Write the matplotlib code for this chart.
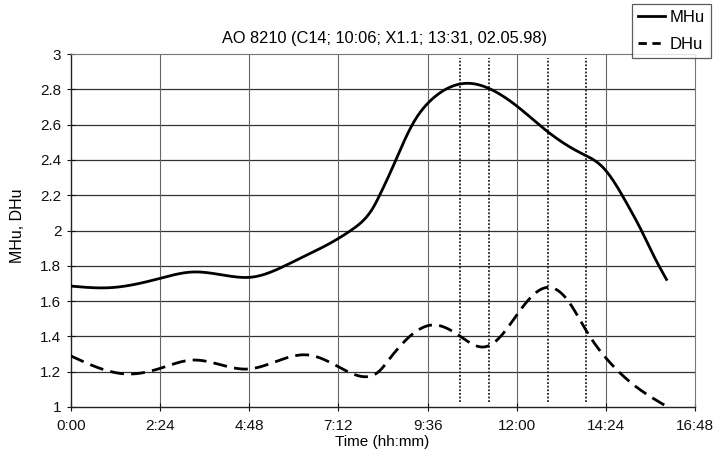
import numpy as np
import matplotlib
matplotlib.use("Agg")
import matplotlib.pyplot as plt
from matplotlib.lines import Line2D

plt.rcParams['font.family'] = ['Liberation Sans', 'DejaVu Sans']

# Data (time in minutes since 0:00)
mhu_t = [0, 63, 144, 197, 273, 290, 359, 432, 456, 489, 500, 516, 553, 579, 608, 641, 675, 722, 770, 823, 860, 900, 921, 942, 963]
mhu_v = [1.685, 1.676, 1.729, 1.765, 1.735, 1.735, 1.823, 1.955, 2.01, 2.135, 2.21, 2.33, 2.61, 2.73, 2.805, 2.834, 2.805, 2.70, 2.56, 2.44, 2.355, 2.14, 2.003, 1.852, 1.716]
dhu_t = [0, 91, 144, 197, 285, 382, 432, 472, 500, 511, 553, 586, 629, 667, 694, 726, 770, 802, 835, 867, 909, 963]
dhu_v = [1.289, 1.187, 1.219, 1.266, 1.215, 1.295, 1.228, 1.172, 1.21, 1.257, 1.417, 1.465, 1.40, 1.34, 1.40, 1.55, 1.678, 1.606, 1.417, 1.266, 1.125, 1.002]
marker_t = [628, 675, 770, 832]
xtick_t = [0, 144, 288, 432, 576, 720, 864, 1008]
xtick_labels = ['0:00', '2:24', '4:48', '7:12', '9:36', '12:00', '14:24', '16:48']
yticks = [1, 1.2, 1.4, 1.6, 1.8, 2, 2.2, 2.4, 2.6, 2.8, 3]
ytick_labels = ['1', '1.2', '1.4', '1.6', '1.8', '2', '2.2', '2.4', '2.6', '2.8', '3']
title = 'AO 8210 (C14; 10:06; X1.1; 13:31, 02.05.98)'


def smooth(t, v, n=600):
    # natural cubic spline rendering of the line through the read points
    x = np.asarray(t, float); y = np.asarray(v, float)
    N = len(x)
    h = np.diff(x)
    A = np.zeros((N, N)); b = np.zeros(N)
    A[0, 0] = A[-1, -1] = 1
    for i in range(1, N - 1):
        A[i, i - 1] = h[i - 1]
        A[i, i] = 2 * (h[i - 1] + h[i])
        A[i, i + 1] = h[i]
        b[i] = 6 * ((y[i + 1] - y[i]) / h[i] - (y[i] - y[i - 1]) / h[i - 1])
    M = np.linalg.solve(A, b)
    xs = np.linspace(x[0], x[-1], n)
    idx = np.clip(np.searchsorted(x, xs) - 1, 0, N - 2)
    x0, x1 = x[idx], x[idx + 1]
    hh = x1 - x0
    a = (x1 - xs) / hh; bb = (xs - x0) / hh
    ys = a * y[idx] + bb * y[idx + 1] + ((a ** 3 - a) * M[idx] + (bb ** 3 - bb) * M[idx + 1]) * hh ** 2 / 6
    return xs, ys


fig = plt.figure(figsize=(7.17, 4.49), dpi=100)
ax = fig.add_axes([71 / 717, 1 - 407 / 449, (695 - 71) / 717, (407 - 54) / 449])

ax.set_xlim(0, 1008)
ax.set_ylim(1, 3)
ax.set_xticks(xtick_t)
ax.set_xticklabels(xtick_labels)
ax.set_yticks(yticks)
ax.set_yticklabels(ytick_labels)
ax.tick_params(axis='both', direction='inout', length=6, width=0.8, labelsize=11, colors='#111')
ax.tick_params(axis='x', pad=6)
ax.tick_params(axis='y', pad=4)

for y in yticks[1:-1]:
    ax.axhline(y, color='#333', lw=0.9, zorder=1)
for x in xtick_t[1:-1]:
    ax.axvline(x, color='#666', lw=0.8, zorder=1)
for x in marker_t:
    ax.axvline(x, ymin=0.015, ymax=0.99, color='#222', lw=1.3, ls=(0, (1, 1)), zorder=1)

for side in ['top', 'right']:
    ax.spines[side].set_linestyle((0, (1, 1)))
    ax.spines[side].set_color('#777')
    ax.spines[side].set_linewidth(0.8)
for side in ['left', 'bottom']:
    ax.spines[side].set_color('#222')
    ax.spines[side].set_linewidth(1.0)

tx, vy = smooth(mhu_t, mhu_v)
ax.plot(tx, vy, color='black', lw=2.0, zorder=3, solid_capstyle='butt')
tx, vy = smooth(dhu_t, dhu_v)
ax.plot(tx, vy, color='black', lw=2.0, ls=(0, (5, 2.6)), zorder=3)

fig.text(385 / 717, 1 - 38 / 449, title, ha='center', va='center', fontsize=11.8)
fig.text(18 / 717, 1 - 226 / 449, 'MHu, DHu', rotation=90, ha='center', va='center', fontsize=11.5)
fig.text(382 / 717, 1 - 442 / 449, 'Time (hh:mm)', ha='center', va='center', fontsize=11)

handles = [Line2D([], [], color='black', lw=2.0),
           Line2D([], [], color='black', lw=2.0, ls=(0, (3, 2)))]
leg = fig.legend(handles, ['MHu', 'DHu'], loc='upper left', bbox_to_anchor=(632 / 717, 1 - 4 / 449),
                 frameon=True, fancybox=False, edgecolor='#333', fontsize=12,
                 handlelength=1.6, handletextpad=0.3, borderpad=0.35, labelspacing=0.75, borderaxespad=0)
leg.get_frame().set_linewidth(0.9)

fig.savefig('out.png', dpi=100)
